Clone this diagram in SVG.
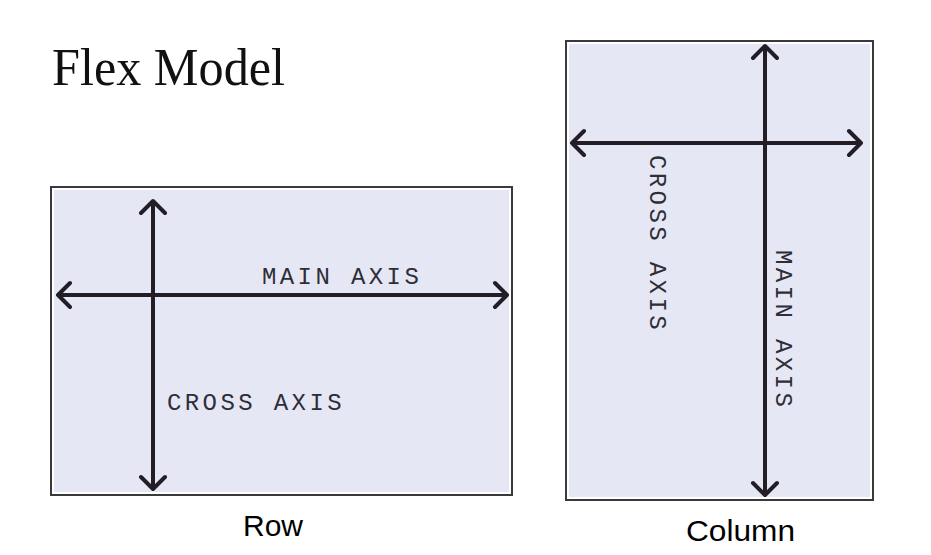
<svg xmlns="http://www.w3.org/2000/svg" width="931" height="555" viewBox="0 0 931 555">
<style>
.frame{fill:#ffffff;stroke:#3a3a3c;stroke-width:2}
.fill{fill:#e6e7f5}
.ax{stroke:#231e26;stroke-width:4;fill:none;stroke-linecap:round;stroke-linejoin:round}
.lbl{font-family:"Liberation Mono","DejaVu Sans Mono",monospace;font-size:24px;fill:#2e2e36;letter-spacing:3.4px}
.cap{font-family:"Liberation Sans",Arial,sans-serif;font-size:30px;fill:#000}
.title{font-family:"Liberation Serif","Times New Roman",serif;font-size:52px;fill:#111}
</style>
<rect width="931" height="555" fill="#ffffff"/>
<text class="title" x="52" y="85" textLength="233" lengthAdjust="spacingAndGlyphs">Flex Model</text>
<g id="row">
<rect class="frame" x="51" y="187" width="461" height="308"/>
<rect class="fill" x="54" y="190" width="455" height="302"/>
<text class="lbl" x="262" y="284">MAIN AXIS</text>
<text class="lbl" x="167" y="410">CROSS AXIS</text>
<text class="cap" x="243" y="536">Row</text>
</g>
<g id="column">
<rect class="frame" x="566" y="41" width="307" height="459"/>
<rect class="fill" x="569" y="44" width="301" height="453"/>
<text class="lbl" transform="translate(650,155) rotate(90)">CROSS AXIS</text>
<text class="lbl" transform="translate(776,250) rotate(90)">MAIN AXIS</text>
<text class="cap" x="686" y="541" textLength="109" lengthAdjust="spacingAndGlyphs">Column</text>
</g>
<g id="connectors">
<path class="ax" d="M58 295 H507 M70 283 L58 295 L70 307 M495 283 L507 295 L495 307"/>
<path class="ax" d="M153 201 V489 M141 213 L153 201 L165 213 M141 477 L153 489 L165 477"/>
<path class="ax" d="M572 143 H861 M584 131 L572 143 L584 155 M849 131 L861 143 L849 155"/>
<path class="ax" d="M765 46 V495 M753 58 L765 46 L777 58 M753 483 L765 495 L777 483"/>
</g>
</svg>
